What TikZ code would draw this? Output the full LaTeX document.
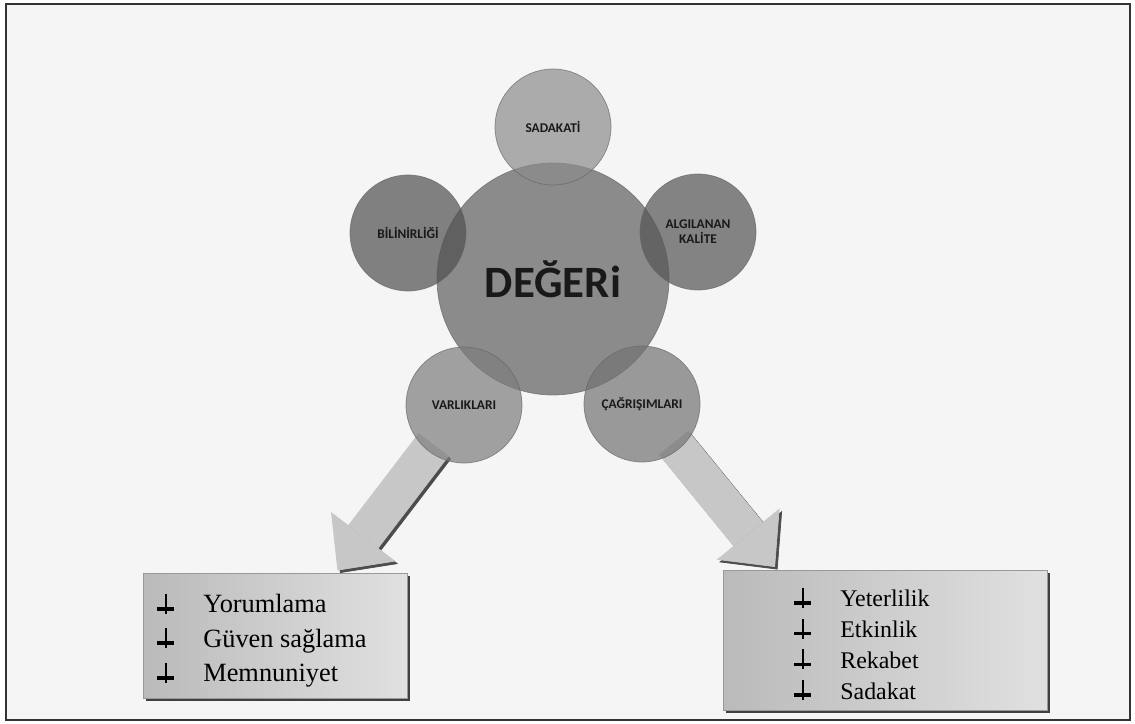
\documentclass[tikz,border=0pt]{standalone}
\usepackage{fontspec}
\setmainfont{Liberation Serif}
\newfontfamily\calfont{Carlito}
\usetikzlibrary{arrows.meta,shadows}
\pgfdeclarelayer{back}
\pgfsetlayers{back,main}
\definecolor{cdeg}{gray}{0.37}
\definecolor{cbil}{gray}{0.31}
\definecolor{calg}{gray}{0.33}
\definecolor{csad}{gray}{0.55}
\definecolor{cvar}{gray}{0.49}
\definecolor{ccag}{gray}{0.45}
\newcommand{\downmark}{\tikz[baseline=0pt]{\draw[line width=1.1pt] (0,0.38)--(0,-0.02); \draw[line width=2.2pt] (-0.17,0.08)--(0.17,0.08);}}

\begin{document}
\begin{tikzpicture}[
    ball/.style={circle, draw=black!60, fill opacity=0.7, draw opacity=0.7, text opacity=1, inner sep=0pt, minimum size=2.32cm, align=center, text=black!90, font=\calfont\bfseries\fontsize{7.6}{8.6}\selectfont},
    listbox/.style={draw=black!40, left color=black!27, right color=black!12, drop shadow={shadow xshift=0.06cm, shadow yshift=-0.06cm, opacity=1, fill=black!75}},
    blockarrow/.style={line width=0.76cm, draw=black!22, fill=black!22, shorten <=1cm, -{Triangle[width=1.62cm, length=0.85cm, line width=0.4pt]}},
    arrowshade/.style={blockarrow, draw=black!70, fill=black!70, transform canvas={shift={(0.05,-0.05)}}},
    item/.style={align=left, anchor=west, inner sep=0pt, font=\fontsize{15}{19.6}\selectfont}]
    \useasboundingbox (0,0) rectangle (22.7,14.46);

    % circles
    \node [ball, minimum size=4.64cm, fill=cdeg, font=\calfont\bfseries\fontsize{25.5}{30}\selectfont] (deg) at (11.06,8.88) {DEĞERi};
    \node [ball, fill=csad] (sad) at (11.06,11.92) {SADAKATİ};
    \node [ball, fill=cbil] (bil) at (8.16,9.80) {BİLİNİRLİĞİ};
    \node [ball, fill=calg] (alg) at (13.96,9.82) {ALGILANAN\\KALİTE};
    \node [ball, fill=cvar] (var) at (9.28,6.36) {VARLIKLARI};
    \node [ball, fill=ccag] (cag) at (12.84,6.38) {ÇAĞRIŞIMLARI};

    % boxes
    \node [listbox, minimum width=5.28cm, minimum height=2.5cm] (lbox) at (5.50,1.75) {};
    \node [listbox, minimum width=6.48cm, minimum height=2.8cm] (rbox) at (17.70,1.66) {};
    \node [item] (llist) at (3.10,1.66) {\makebox[0.96cm][l]{\downmark}Yorumlama\\ \makebox[0.96cm][l]{\downmark}Güven sağlama\\ \makebox[0.96cm][l]{\downmark}Memnuniyet};
    \node [item, font=\fontsize{13.6}{17.6}\selectfont] (rlist) at (15.84,1.58) {\makebox[0.96cm][l]{\downmark}Yeterlilik\\ \makebox[0.96cm][l]{\downmark}Etkinlik\\ \makebox[0.96cm][l]{\downmark}Rekabet\\ \makebox[0.96cm][l]{\downmark}Sadakat};

    \begin{pgfonlayer}{back}
    \draw [line width=1.3pt, draw=black!80, fill=black!4] (0.12,0.06) rectangle (22.6,14.38);
    \coordinate (ltip) at (6.75,3.05);
    \coordinate (rtip) at (15.50,3.12);
    \draw [arrowshade] (var.center) -- (ltip);
    \draw [arrowshade] (cag.center) -- (rtip);
    \draw [blockarrow] (var.center) -- (ltip);
    \draw [blockarrow] (cag.center) -- (rtip);
    \end{pgfonlayer}
\end{tikzpicture}
\end{document}
